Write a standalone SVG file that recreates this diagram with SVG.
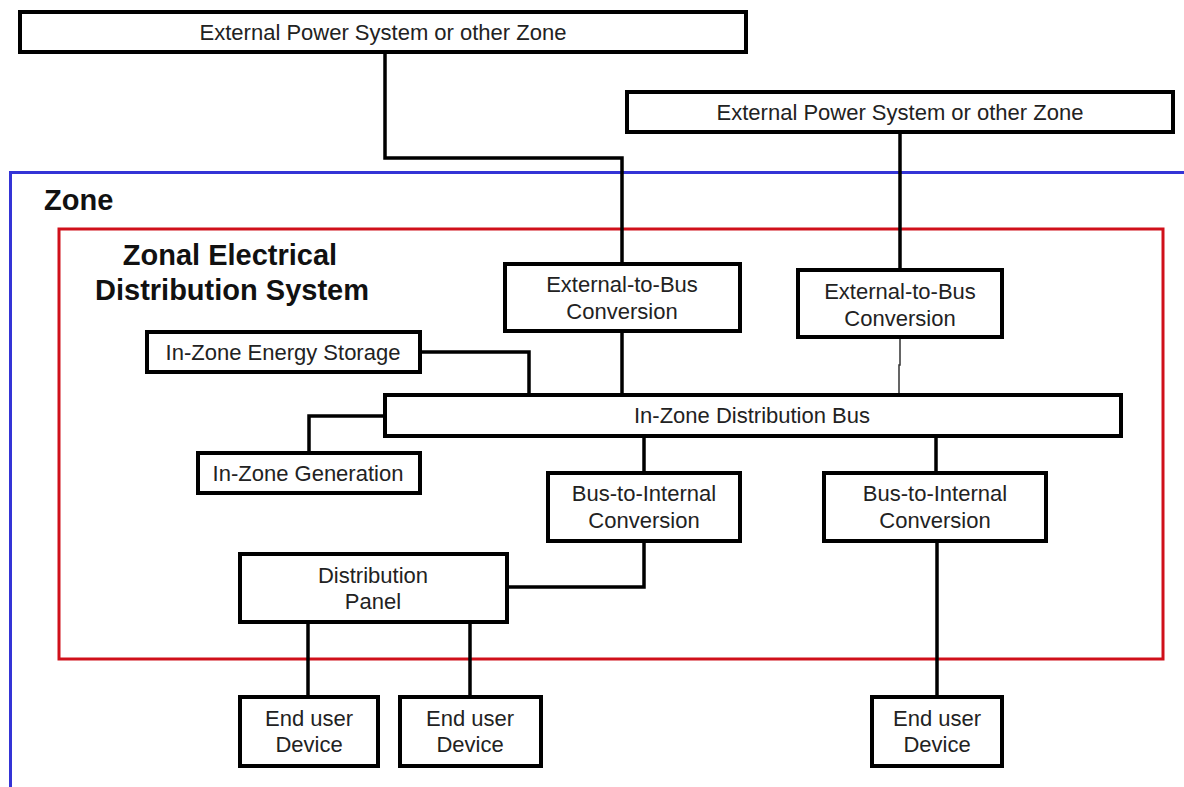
<svg xmlns="http://www.w3.org/2000/svg" width="1184" height="787" viewBox="0 0 1184 787">
<style>
.box{fill:#fff;stroke:#000;stroke-width:4}
.t{font-family:"Liberation Sans",Arial,sans-serif;font-size:22px;fill:#222;text-anchor:middle}
.b{font-family:"Liberation Sans",Arial,sans-serif;font-weight:bold;font-size:29px;fill:#111}
.c{fill:none;stroke:#000;stroke-width:3.5}
</style>
<rect width="1184" height="787" fill="#fff"/>
<g id="zone">
<path d="M1184,172.5 H10.5 V787" fill="none" stroke="#3434d6" stroke-width="3"/>
<text class="b" x="44" y="210">Zone</text>
</g>
<g id="zeds">
<rect x="59" y="229" width="1104" height="430" fill="none" stroke="#d0101a" stroke-width="3"/>
<text class="b" x="230" y="265" text-anchor="middle">Zonal Electrical</text>
<text class="b" x="232" y="300" text-anchor="middle">Distribution  System</text>
</g>
<g id="connectors">
<path class="c" d="M385,52 V158 H622 V263"/>
<path class="c" d="M900,132 V270"/>
<path class="c" d="M622,331 V395"/>
<path d="M900,337 V365 H899 V395" fill="none" stroke="#333" stroke-width="1.5"/>
<path class="c" d="M420,352 H529 V395"/>
<path class="c" d="M385,416 H309 V453"/>
<path class="c" d="M644,436 V473"/>
<path class="c" d="M936,436 V473"/>
<path class="c" d="M644,541 V587 H506"/>
<path class="c" d="M937,541 V697"/>
<path class="c" d="M308,622 V697"/>
<path class="c" d="M470,622 V697"/>
</g>
<g id="ext1">
<rect class="box" x="20" y="12" width="726" height="40"/>
<text class="t" x="383" y="40">External Power System or other Zone</text>
</g>
<g id="ext2">
<rect class="box" x="627" y="92" width="546" height="40"/>
<text class="t" x="900" y="120">External Power System or other Zone</text>
</g>
<g id="e2b1">
<rect class="box" x="505" y="264" width="235" height="67"/>
<text class="t" x="622" y="292">External-to-Bus</text>
<text class="t" x="622" y="319">Conversion</text>
</g>
<g id="e2b2">
<rect class="box" x="798" y="270" width="204" height="67"/>
<text class="t" x="900" y="299">External-to-Bus</text>
<text class="t" x="900" y="326">Conversion</text>
</g>
<g id="storage">
<rect class="box" x="147" y="332" width="273" height="40"/>
<text class="t" x="283" y="360">In-Zone Energy Storage</text>
</g>
<g id="bus">
<rect class="box" x="385" y="395" width="736" height="41"/>
<text class="t" x="752" y="423">In-Zone Distribution Bus</text>
</g>
<g id="generation">
<rect class="box" x="198" y="453" width="222" height="40"/>
<text class="t" x="308" y="481">In-Zone Generation</text>
</g>
<g id="b2i1">
<rect class="box" x="548" y="473" width="192" height="68"/>
<text class="t" x="644" y="501">Bus-to-Internal</text>
<text class="t" x="644" y="528">Conversion</text>
</g>
<g id="b2i2">
<rect class="box" x="824" y="473" width="222" height="68"/>
<text class="t" x="935" y="501">Bus-to-Internal</text>
<text class="t" x="935" y="528">Conversion</text>
</g>
<g id="panel">
<rect class="box" x="240" y="554" width="267" height="68"/>
<text class="t" x="373" y="583">Distribution</text>
<text class="t" x="373" y="609">Panel</text>
</g>
<g id="dev1">
<rect class="box" x="240" y="697" width="138" height="69"/>
<text class="t" x="309" y="726">End user</text>
<text class="t" x="309" y="752">Device</text>
</g>
<g id="dev2">
<rect class="box" x="400" y="697" width="141" height="69"/>
<text class="t" x="470" y="726">End user</text>
<text class="t" x="470" y="752">Device</text>
</g>
<g id="dev3">
<rect class="box" x="872" y="697" width="130" height="69"/>
<text class="t" x="937" y="726">End user</text>
<text class="t" x="937" y="752">Device</text>
</g>
</svg>
